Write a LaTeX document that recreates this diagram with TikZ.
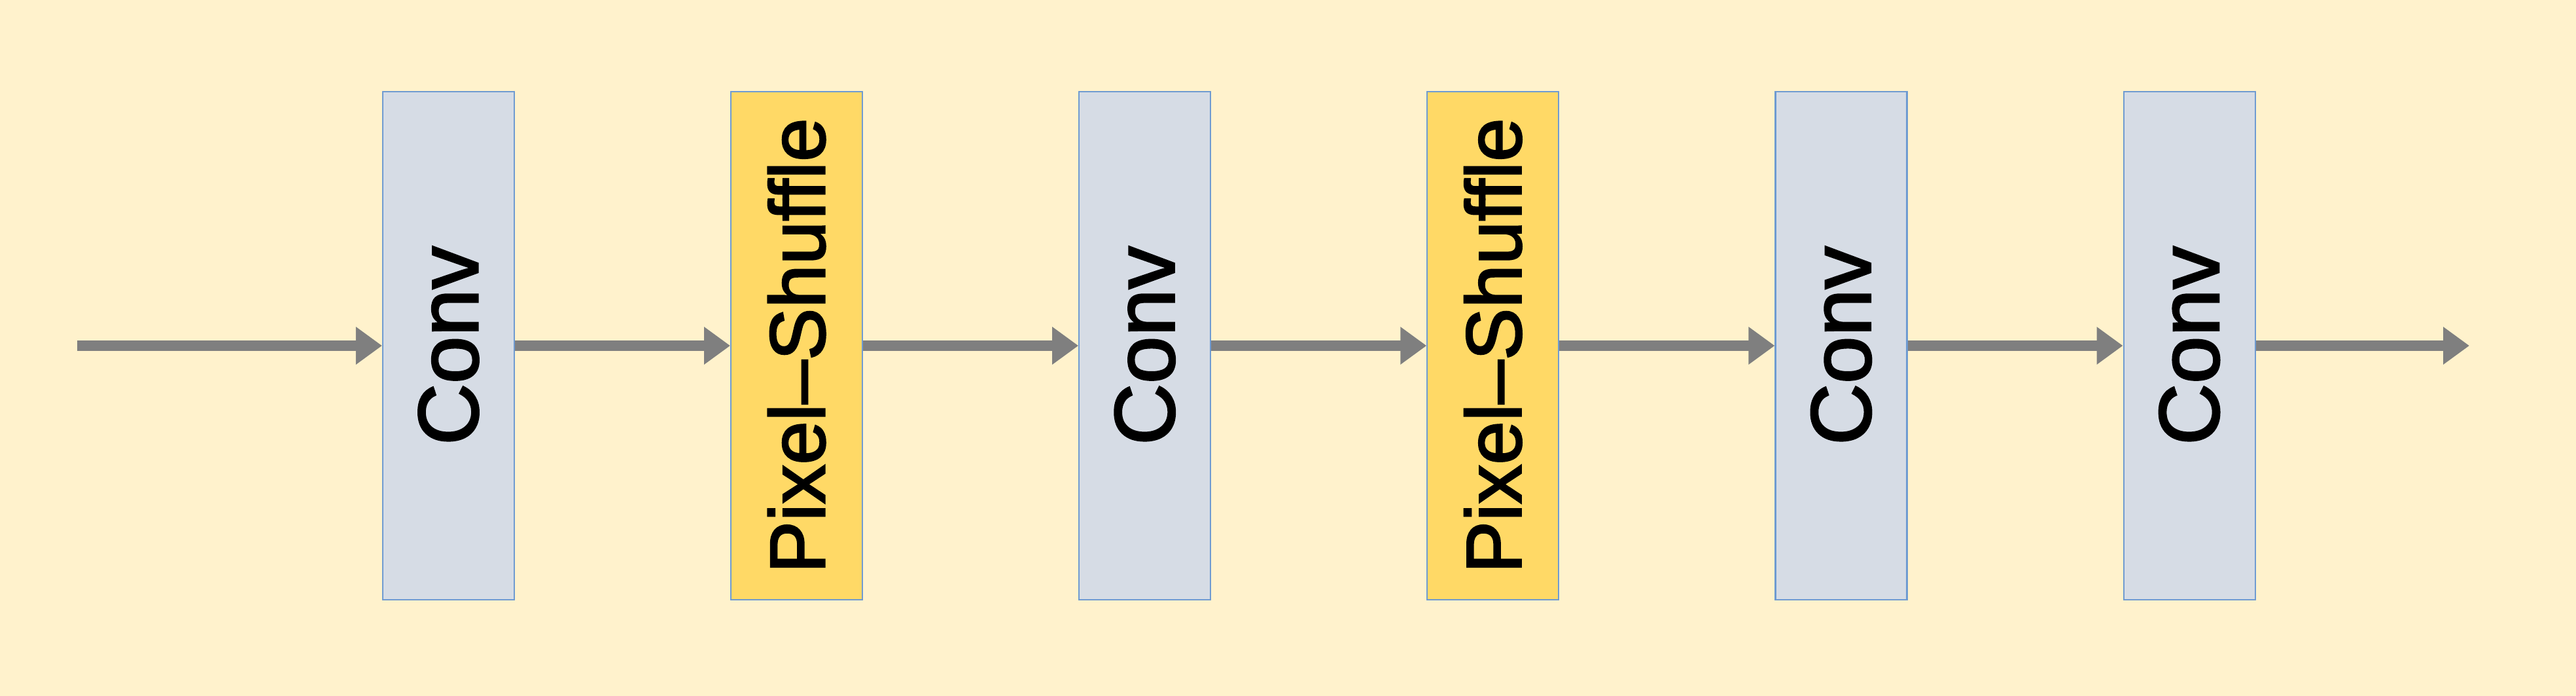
\documentclass[tikz,border=0pt]{standalone}
\usepackage{fontspec}
\setmainfont{Liberation Sans}
\newfontfamily\etiqueta[FakeBold=2.2]{Liberation Sans}
\usepackage{xcolor}
\usetikzlibrary{arrows.meta,positioning}
\definecolor{fondo}{HTML}{FFF2CC}
\definecolor{azulgris}{HTML}{D6DCE5}
\definecolor{amarillo}{HTML}{FFD966}
\definecolor{borde}{HTML}{6F9BD1}
\definecolor{flecha}{HTML}{7F7F7F}
\tikzset{
  capa/.style={draw=borde,line width=0.6pt,minimum width=2.01cm,minimum height=7.76cm,inner sep=0pt},
  conv/.style={capa,fill=azulgris,font=\etiqueta\fontsize{37}{42}\selectfont},
  shuffle/.style={capa,fill=amarillo,font=\etiqueta\fontsize{34}{40}\selectfont},
  flujo/.style={draw=flecha,line width=0.16cm,-{Triangle[length=0.40cm,width=0.55cm]}}
}

\begin{document}
\begin{tikzpicture}
\fill[fondo] (0,0) rectangle (39.37,10.63);
\useasboundingbox (0,0) rectangle (39.37,10.63);
\node[conv] (c1) at (6.855,5.35) {\rotatebox{90}{Conv}};
\node[shuffle,right=3.29cm of c1] (ps1) {\rotatebox{90}{Pixel–Shuffle}};
\node[conv,right=3.29cm of ps1] (c2) {\rotatebox{90}{Conv}};
\node[shuffle,right=3.29cm of c2] (ps2) {\rotatebox{90}{Pixel–Shuffle}};
\node[conv,right=3.29cm of ps2] (c3) {\rotatebox{90}{Conv}};
\node[conv,right=3.29cm of c3] (c4) {\rotatebox{90}{Conv}};
\coordinate (entrada) at (1.18,5.35);
\coordinate (salida) at (37.74,5.35);
\draw[flujo] (entrada) -- (c1.west);
\draw[flujo] (c1) -- (ps1);
\draw[flujo] (ps1) -- (c2);
\draw[flujo] (c2) -- (ps2);
\draw[flujo] (ps2) -- (c3);
\draw[flujo] (c3) -- (c4);
\draw[flujo] (c4.east) -- (salida);
\end{tikzpicture}
\end{document}
